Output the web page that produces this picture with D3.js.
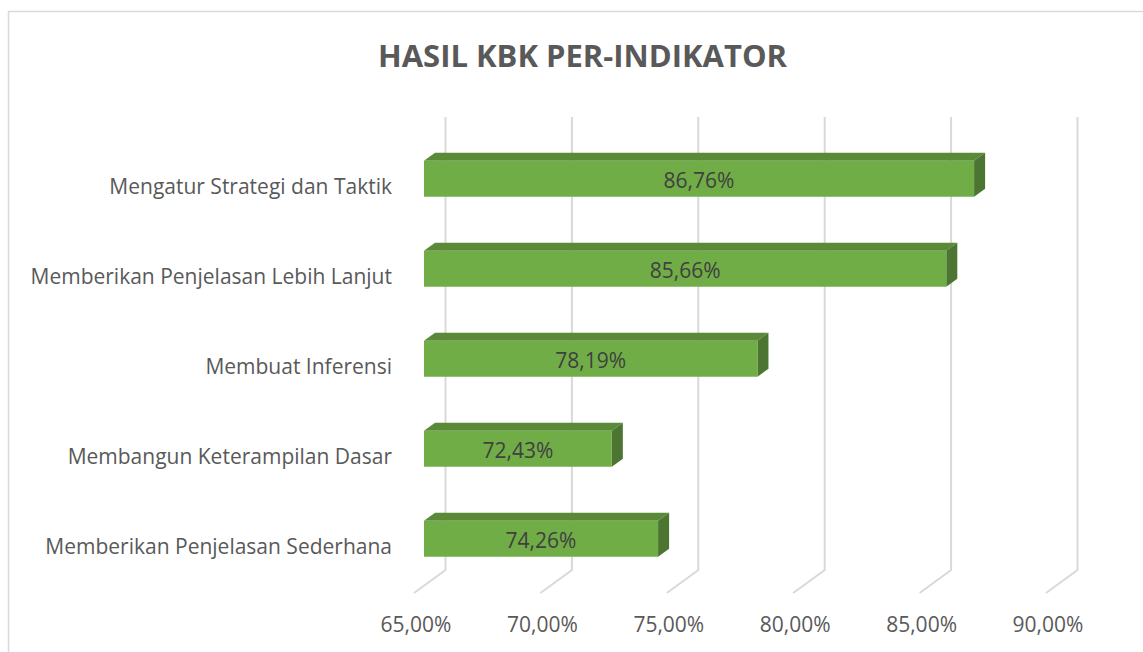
<!DOCTYPE html>
<html>
<head>
<meta charset="utf-8">
<script src="https://cdn.jsdelivr.net/npm/d3@7"></script>
<style>
  body { margin: 0; background: #fff; }
  svg { display: block; font-family: "Open Sans", sans-serif; }
</style>
</head>
<body>
<svg id="chart" width="1143" height="652"></svg>
<script>
// chart values
const categories = [
    'Mengatur Strategi dan Taktik',
    'Memberikan Penjelasan Lebih Lanjut',
    'Membuat Inferensi',
    'Membangun Keterampilan Dasar',
    'Memberikan Penjelasan Sederhana'
];
const values = [86.76, 85.66, 78.19, 72.43, 74.26];
const axisTicks = [65, 70, 75, 80, 85, 90];
const title = 'HASIL KBK PER-INDIKATOR';

const svg = d3.select('#chart');

// comma decimal, like the source spreadsheet
const locale = d3.formatLocale({ decimal: ',', thousands: '.', grouping: [3], currency: ['', ''] });
const fmt = v => locale.format('.2f')(v) + '%';

// front plane scales (z = 0)
const x = d3.scaleLinear().domain([65, 90]).range([414, 1046]);
const y = d3.scaleBand().domain(categories).range([141, 591])
    .paddingInner(0.6).paddingOuter(0.3);
const floorY = 593;
const topY = 117;

// oblique depth: z from 0 (front) to 1 (back wall)
const depth = { dx: 31.5, dy: -23 };
const proj = (px, py, z) => [px + z * depth.dx, py + z * depth.dy];

// chart border
svg.append('rect')
    .attr('x', 8.5).attr('y', 11.5)
    .attr('width', 1200).attr('height', 700)
    .attr('fill', 'none')
    .attr('stroke', '#d9d9d9')
    .attr('stroke-width', 1.5);

// title
svg.append('text')
    .attr('x', 582.5).attr('y', 67)
    .attr('text-anchor', 'middle')
    .attr('font-size', 31)
    .attr('font-weight', 'bold')
    .attr('fill', '#595959')
    .text(title);

// gridlines: up the back wall, then across the floor
const line = d3.line();
svg.append('g')
    .selectAll('path')
    .data(axisTicks)
    .enter()
    .append('path')
    .attr('d', v => line([
        proj(x(v), topY - depth.dy, 1),
        proj(x(v), floorY, 1),
        proj(x(v), floorY, 0)
    ]))
    .attr('fill', 'none')
    .attr('stroke', '#d9d9d9')
    .attr('stroke-width', 2);

// bars
const zFront = 0.317, zBack = 0.667;
const bars = svg.append('g')
    .selectAll('g')
    .data(categories.map((c, i) => ({ c, v: values[i] })))
    .enter()
    .append('g');

const pts = arr => arr.map(p => p.join(',')).join(' ');

bars.each(function (d) {
    const g = d3.select(this);
    const x0 = x(65), x1 = x(d.v);
    const y0 = y(d.c), y1 = y(d.c) + y.bandwidth();
    const fTL = proj(x0, y0, zFront), fTR = proj(x1, y0, zFront);
    const fBR = proj(x1, y1, zFront), fBL = proj(x0, y1, zFront);
    const bTL = proj(x0, y0, zBack), bTR = proj(x1, y0, zBack);
    const bBR = proj(x1, y1, zBack);

    g.append('polygon')
        .attr('points', pts([fTL, bTL, bTR, fTR]))
        .attr('fill', '#5a8a38');
    g.append('polygon')
        .attr('points', pts([fTR, bTR, bBR, fBR]))
        .attr('fill', '#4b7530');
    g.append('polygon')
        .attr('points', pts([fTL, fTR, fBR, fBL]))
        .attr('fill', '#70ad47');

    g.append('text')
        .attr('x', (fTL[0] + fTR[0]) / 2)
        .attr('y', (fTL[1] + fBL[1]) / 2)
        .attr('dy', '0.45em')
        .attr('text-anchor', 'middle')
        .attr('font-size', 21)
        .attr('fill', '#404040')
        .text(fmt(d.v));
});

// category labels
svg.append('g')
    .selectAll('text')
    .data(categories)
    .enter()
    .append('text')
    .attr('x', 392)
    .attr('y', c => y(c) + y.bandwidth() / 2)
    .attr('dy', '0.36em')
    .attr('text-anchor', 'end')
    .attr('font-size', 21)
    .attr('fill', '#595959')
    .text(c => c);

// value axis labels along the front edge
svg.append('g')
    .selectAll('text')
    .data(axisTicks)
    .enter()
    .append('text')
    .attr('x', v => x(v) + 2)
    .attr('y', 632)
    .attr('text-anchor', 'middle')
    .attr('font-size', 21)
    .attr('fill', '#595959')
    .text(v => fmt(v));
</script>
</body>
</html>
